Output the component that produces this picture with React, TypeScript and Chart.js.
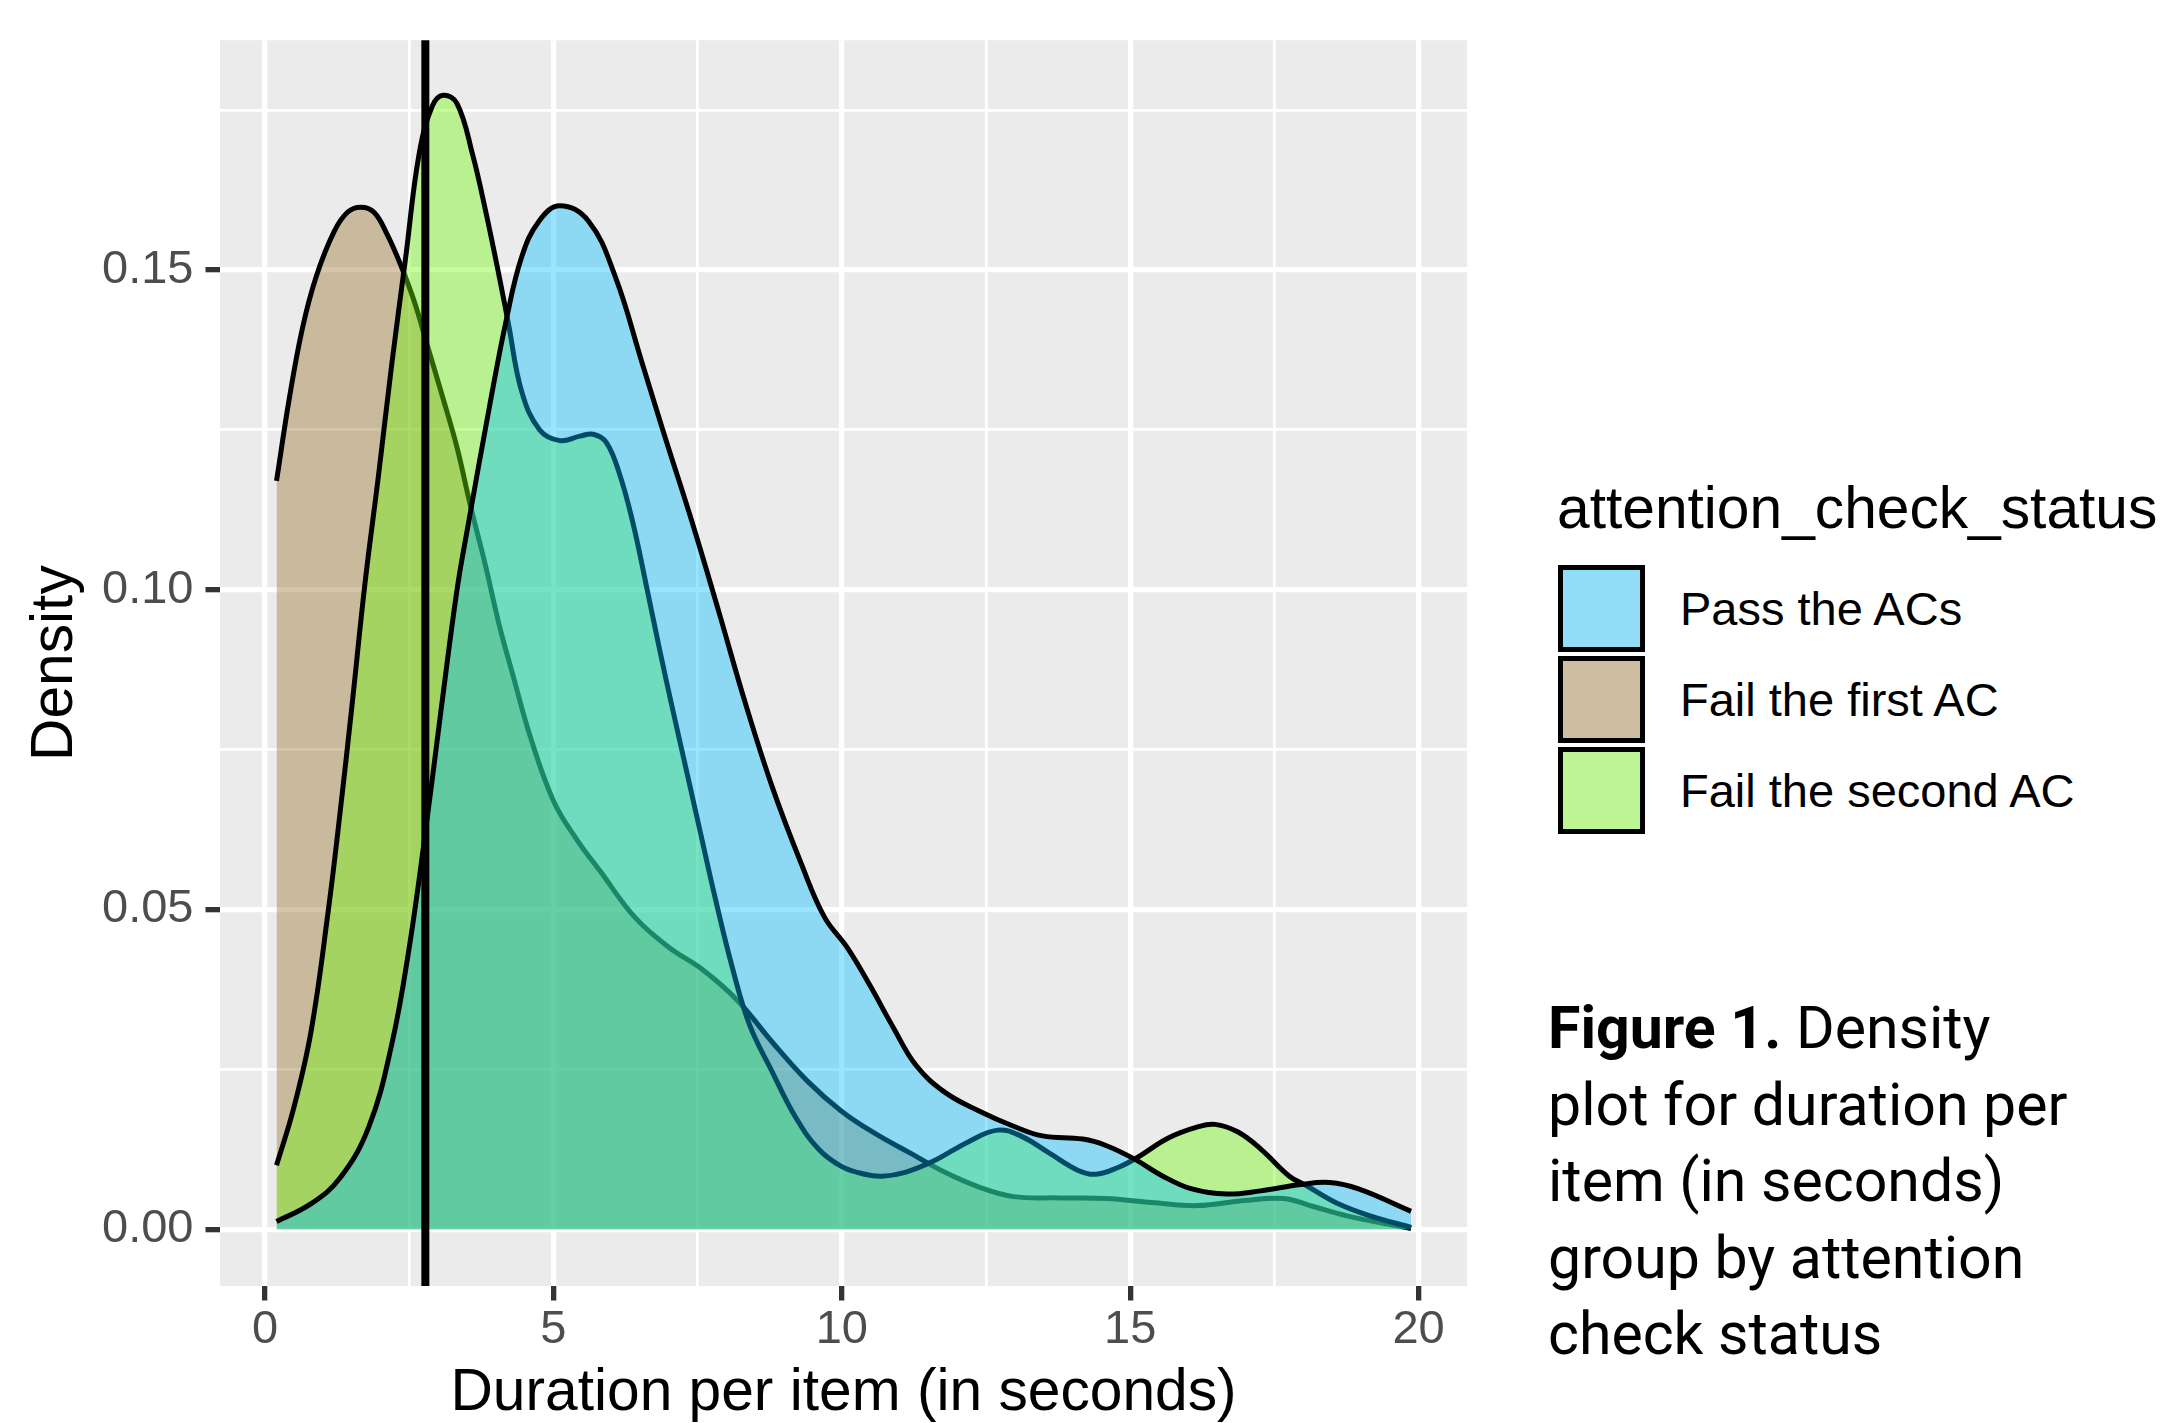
import React, { useEffect, useRef } from 'react';
import { Chart, registerables } from 'chart.js';

Chart.register(...registerables);

// ---------- data ----------
const seriesLabels = ['Pass the ACs', 'Fail the first AC', 'Fail the second AC'];

const passX = [0.2, 0.8, 1.3, 1.8, 2.2, 2.5, 2.78, 3.05, 3.33, 3.52, 3.9, 4.18, 4.45, 4.75, 5.11, 5.61, 6.07, 6.54, 6.92, 7.39, 7.86, 8.32, 8.8, 9.3, 9.7, 10.09, 10.49, 10.89, 11.29, 11.79, 12.38, 12.98, 13.48, 14.18, 14.58, 15.07, 15.57, 16.07, 16.67, 17.26, 17.96, 18.46, 18.96, 19.87];
const passDensity = [0.0012, 0.004, 0.008, 0.016, 0.029, 0.044, 0.062, 0.081, 0.1, 0.11, 0.129, 0.142, 0.152, 0.1576, 0.16, 0.1576, 0.149, 0.1354, 0.1243, 0.111, 0.0968, 0.0825, 0.069, 0.0571, 0.0488, 0.0441, 0.0381, 0.0316, 0.0256, 0.0214, 0.0185, 0.0161, 0.0146, 0.0141, 0.0131, 0.011, 0.0083, 0.0063, 0.0055, 0.006, 0.007, 0.0073, 0.0063, 0.0028];

const failFirstX = [0.2, 0.42, 0.65, 0.89, 1.2, 1.43, 1.66, 1.89, 2.12, 2.36, 2.59, 2.82, 3.09, 3.33, 3.56, 3.83, 4.06, 4.29, 4.6, 5.0, 5.4, 5.81, 6.41, 7.0, 7.6, 8.2, 8.8, 9.4, 9.99, 10.59, 11.19, 11.79, 12.38, 12.98, 13.78, 14.58, 15.37, 16.17, 16.97, 17.66, 18.16, 18.76, 19.87];
const failFirstDensity = [0.117, 0.1298, 0.1409, 0.149, 0.156, 0.159, 0.1598, 0.159, 0.1555, 0.1506, 0.145, 0.138, 0.1298, 0.1222, 0.1132, 0.1035, 0.0945, 0.0869, 0.077, 0.067, 0.061, 0.056, 0.0488, 0.0441, 0.0405, 0.0357, 0.0292, 0.0232, 0.0185, 0.0149, 0.0119, 0.0089, 0.0066, 0.0051, 0.0049, 0.0048, 0.0042, 0.0037, 0.0045, 0.0048, 0.0036, 0.0021, 0.0001];

const failSecondX = [0.2, 0.5, 0.8, 1.1, 1.3, 1.51, 1.73, 1.97, 2.2, 2.44, 2.67, 2.9, 3.09, 3.33, 3.6, 3.83, 4.06, 4.22, 4.45, 4.76, 5.11, 5.46, 5.69, 5.92, 6.15, 6.38, 6.61, 6.85, 7.05, 7.3, 7.55, 7.8, 8.1, 8.4, 8.8, 9.2, 9.6, 10.0, 10.4, 10.7, 11.1, 11.6, 12.2, 12.7, 13.1, 13.6, 14.1, 14.4, 14.8, 15.12, 15.67, 16.17, 16.47, 16.87, 17.27, 17.76, 18.06, 18.56, 19.16, 19.87];
const failSecondDensity = [0.01, 0.019, 0.031, 0.05, 0.065, 0.082, 0.1007, 0.118, 0.1354, 0.152, 0.168, 0.1756, 0.1773, 0.176, 0.168, 0.159, 0.149, 0.1416, 0.131, 0.125, 0.1233, 0.124, 0.1243, 0.123, 0.118, 0.1104, 0.1007, 0.0903, 0.082, 0.072, 0.062, 0.052, 0.041, 0.032, 0.0245, 0.0175, 0.0125, 0.0098, 0.0086, 0.0083, 0.0089, 0.0107, 0.0137, 0.0155, 0.0146, 0.0119, 0.0092, 0.0086, 0.0097, 0.0112, 0.0143, 0.016, 0.0164, 0.0152, 0.0125, 0.0083, 0.0068, 0.0042, 0.0021, 0.0003];

const xMajorTicks = [0, 5, 10, 15, 20];
const xMinorTicks = [2.5, 7.5, 12.5, 17.5];
const xTickLabels = ['0', '5', '10', '15', '20'];
const yMajorTicks = [0, 0.05, 0.1, 0.15];
const yMinorTicks = [0.025, 0.075, 0.125, 0.175];
const yTickLabels = ['0.00', '0.05', '0.10', '0.15'];
const vlineX = 2.78;

// ---------- styling ----------
const fillColors = ['rgba(0,191,255,0.4)', 'rgba(150,110,40,0.4)', 'rgba(110,250,10,0.4)'];
const drawOrder = [0, 2, 1]; // blue on top, green middle, tan bottom
const FONT = "'Liberation Sans', Arial, Helvetica, sans-serif";

const majorIndex = (list: number[], v: number) => list.findIndex((m) => Math.abs(m - v) < 1e-9);

const panelPlugin = {
  id: 'panelBg',
  beforeDraw(chart: any) {
    const { ctx, chartArea } = chart;
    ctx.save();
    ctx.fillStyle = '#EBEBEB';
    ctx.fillRect(chartArea.left, chartArea.top, chartArea.right - chartArea.left, chartArea.bottom - chartArea.top);
    ctx.restore();
  },
};

const vlinePlugin = {
  id: 'vline',
  afterDatasetsDraw(chart: any) {
    const { ctx, chartArea, scales } = chart;
    const px = scales.x.getPixelForValue(vlineX);
    ctx.save();
    ctx.strokeStyle = '#000000';
    ctx.lineWidth = 8;
    ctx.beginPath();
    ctx.moveTo(px, chartArea.top);
    ctx.lineTo(px, chartArea.bottom);
    ctx.stroke();
    ctx.restore();
  },
};

function zip(xs: number[], ys: number[]) {
  return xs.map((x, i) => ({ x, y: ys[i] }));
}

function DensityChart() {
  const ref = useRef<HTMLCanvasElement | null>(null);
  useEffect(() => {
    if (!ref.current) return;
    const series = [zip(passX, passDensity), zip(failFirstX, failFirstDensity), zip(failSecondX, failSecondDensity)];
    const chart = new Chart(ref.current, {
      type: 'line',
      data: {
        datasets: series.map((d, i) => ({
          label: seriesLabels[i],
          data: d,
          order: drawOrder[i],
          borderColor: '#000000',
          borderWidth: 5,
          backgroundColor: fillColors[i],
          fill: 'origin',
          pointRadius: 0,
          tension: 0.4,
          borderJoinStyle: 'round' as const,
        })),
      },
      options: {
        animation: false,
        responsive: false,
        events: [],
        layout: { padding: { top: 32, right: 33, bottom: 0, left: 0 } },
        plugins: { legend: { display: false }, tooltip: { enabled: false } },
        scales: {
          x: {
            type: 'linear',
            min: -0.78,
            max: 20.84,
            afterBuildTicks: (axis: any) => {
              axis.ticks = [...xMajorTicks, ...xMinorTicks].sort((a, b) => a - b).map((v) => ({ value: v }));
            },
            afterFit: (axis: any) => {
              axis.height = 137;
            },
            border: { display: false },
            grid: {
              color: '#FFFFFF',
              lineWidth: (c: any) => (majorIndex(xMajorTicks, c.tick.value) >= 0 ? 5.3 : 2.7),
              drawTicks: true,
              tickLength: 14.5,
              tickColor: (c: any) => (majorIndex(xMajorTicks, c.tick.value) >= 0 ? '#333333' : 'rgba(0,0,0,0)'),
              tickWidth: (c: any) => (majorIndex(xMajorTicks, c.tick.value) >= 0 ? 5.3 : 0.01),
            },
            ticks: {
              autoSkip: false,
              maxRotation: 0,
              minRotation: 0,
              padding: 1,
              color: '#4D4D4D',
              font: { family: FONT, size: 47 },
              callback: (v: any) => {
                const i = majorIndex(xMajorTicks, Number(v));
                return i >= 0 ? xTickLabels[i] : '';
              },
            },
            title: {
              display: true,
              text: 'Duration per item (in seconds)',
              color: '#000000',
              font: { family: FONT, size: 58.7, lineHeight: 1 },
              padding: { top: 0, bottom: 0 },
            },
          },
          y: {
            type: 'linear',
            min: -0.00887,
            max: 0.1859,
            afterBuildTicks: (axis: any) => {
              axis.ticks = [...yMajorTicks, ...yMinorTicks].sort((a, b) => a - b).map((v) => ({ value: v }));
            },
            afterFit: (axis: any) => {
              axis.width = 220;
            },
            border: { display: false },
            grid: {
              color: '#FFFFFF',
              lineWidth: (c: any) => (majorIndex(yMajorTicks, c.tick.value) >= 0 ? 5.3 : 2.7),
              drawTicks: true,
              tickLength: 14.5,
              tickColor: (c: any) => (majorIndex(yMajorTicks, c.tick.value) >= 0 ? '#333333' : 'rgba(0,0,0,0)'),
              tickWidth: (c: any) => (majorIndex(yMajorTicks, c.tick.value) >= 0 ? 5.3 : 0.01),
            },
            ticks: {
              autoSkip: false,
              padding: 12,
              color: '#4D4D4D',
              font: { family: FONT, size: 47 },
              callback: (v: any) => {
                const i = majorIndex(yMajorTicks, Number(v));
                return i >= 0 ? yTickLabels[i] : '';
              },
            },
            title: {
              display: true,
              text: 'Density',
              color: '#000000',
              font: { family: FONT, size: 58.7, lineHeight: 1 },
              padding: { top: 26, bottom: 0 },
            },
          },
        },
      } as any,
      plugins: [panelPlugin, vlinePlugin],
    });
    return () => chart.destroy();
  }, []);
  return <canvas ref={ref} width={1500} height={1423} style={{ width: 1500, height: 1423, display: 'block' }} />;
}

const keyColors = fillColors;

export default function App() {
  return (
    <div style={{ position: 'absolute', left: 0, top: 0, width: 2162, height: 1423, background: '#FFFFFF', overflow: 'hidden' }}>
      <div style={{ position: 'absolute', left: 0, top: 0 }}>
        <DensityChart />
      </div>
      {/* legend */}
      <div
        style={{
          position: 'absolute',
          left: 1557,
          top: 479,
          fontFamily: FONT,
          fontSize: 58.7,
          lineHeight: '58.7px',
          color: '#000',
          whiteSpace: 'nowrap',
        }}
      >
        attention_check_status
      </div>
      {seriesLabels.map((lab, i) => (
        <div key={lab} style={{ position: 'absolute', left: 1558, top: 565 + i * 91, height: 87, display: 'flex', alignItems: 'center' }}>
          <div
            style={{
              width: 87,
              height: 87,
              boxSizing: 'border-box',
              border: '5.5px solid #000',
              background: `linear-gradient(${keyColors[i]}, ${keyColors[i]}), #F2F2F2`,
            }}
          />
          <div style={{ marginLeft: 35, fontFamily: FONT, fontSize: 47, color: '#000', whiteSpace: 'nowrap' }}>{lab}</div>
        </div>
      ))}
      {/* caption */}
      <div
        style={{
          position: 'absolute',
          left: 1548,
          top: 990,
          fontFamily: "Roboto, 'Noto Sans', sans-serif",
          fontSize: 59,
          lineHeight: '76.5px',
          color: '#000',
          whiteSpace: 'nowrap',
        }}
      >
        <div>
          <span style={{ fontWeight: 700 }}>Figure 1.</span> Density
        </div>
        <div>plot for duration per</div>
        <div>item (in seconds)</div>
        <div>group by attention</div>
        <div>check status</div>
      </div>
    </div>
  );
}
